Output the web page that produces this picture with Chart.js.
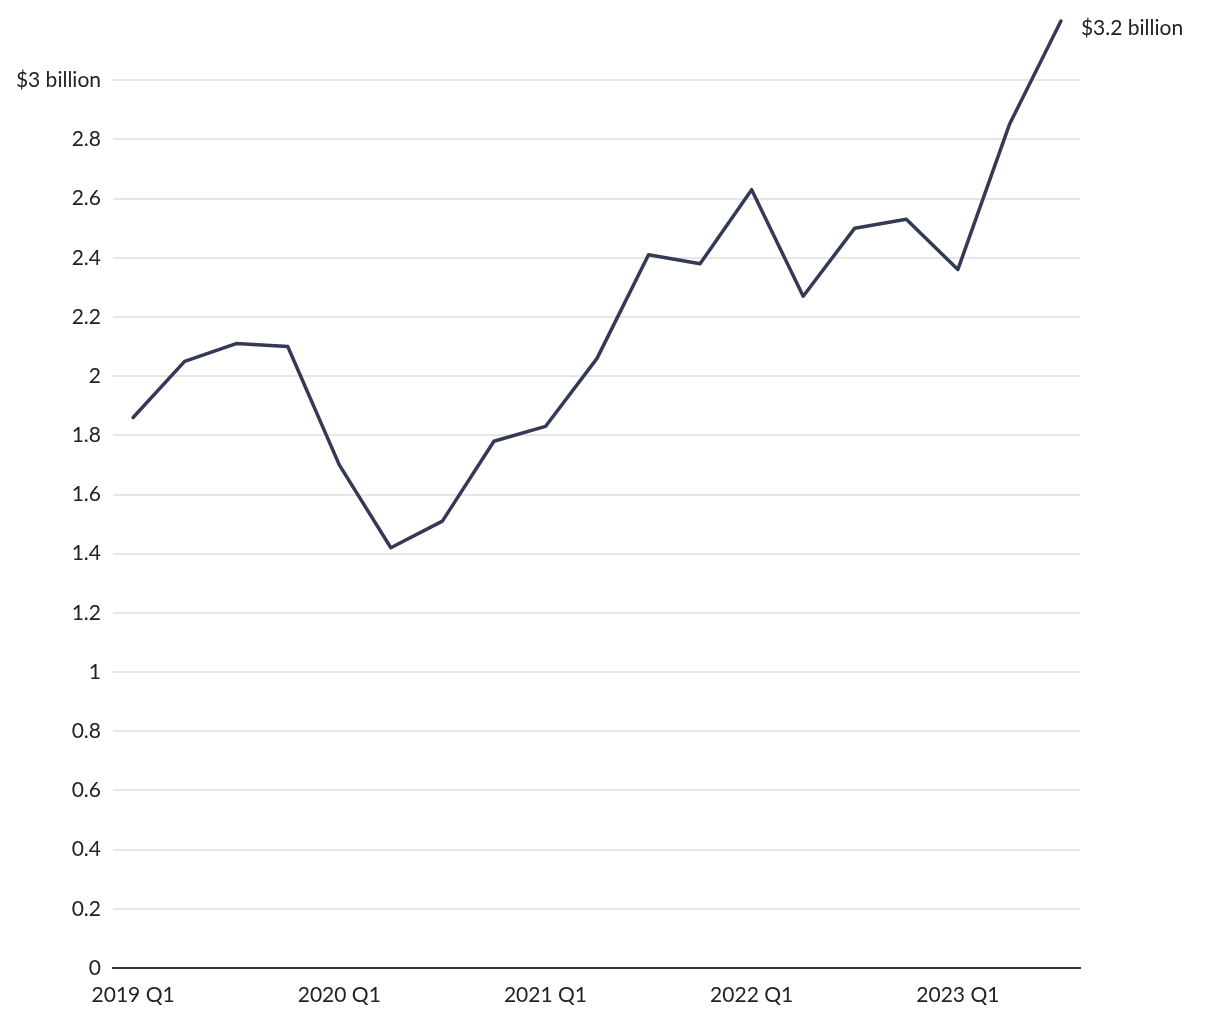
<!DOCTYPE html>
<html>
<head>
<meta charset="utf-8">
<script src="https://cdn.jsdelivr.net/npm/chart.js@4"></script>
<style>
  html, body { margin: 0; padding: 0; background: #fff; }
  #wrap { width: 1220px; height: 1020px; }
</style>
</head>
<body>
<div id="wrap"><canvas id="c" width="1220" height="1020"></canvas></div>
<script>
const quarters = ["2019 Q1","2019 Q2","2019 Q3","2019 Q4","2020 Q1","2020 Q2","2020 Q3","2020 Q4","2021 Q1","2021 Q2","2021 Q3","2021 Q4","2022 Q1","2022 Q2","2022 Q3","2022 Q4","2023 Q1","2023 Q2","2023 Q3"];
const valuesBillion = [1.86, 2.05, 2.11, 2.10, 1.70, 1.42, 1.51, 1.78, 1.83, 2.06, 2.41, 2.38, 2.63, 2.27, 2.50, 2.53, 2.36, 2.85, 3.2];
const xTickIndexes = [0, 4, 8, 12, 16];
const yTicks = [0, 0.2, 0.4, 0.6, 0.8, 1, 1.2, 1.4, 1.6, 1.8, 2, 2.2, 2.4, 2.6, 2.8, 3];
const endLabel = "$3.2 billion";

const FONT = "'Lato', 'Open Sans', sans-serif";
const TEXT = "#222";

const endLabelPlugin = {
  id: 'endLabel',
  afterDatasetsDraw(chart) {
    const meta = chart.getDatasetMeta(0);
    const pt = meta.data[meta.data.length - 1];
    const ctx = chart.ctx;
    ctx.save();
    ctx.font = "21px " + FONT;
    ctx.fillStyle = TEXT;
    ctx.textAlign = 'left';
    ctx.textBaseline = 'middle';
    ctx.fillText(endLabel, pt.x + 20, pt.y + 7);
    ctx.restore();
  }
};

new Chart(document.getElementById('c'), {
  type: 'line',
  data: {
    datasets: [{
      data: valuesBillion.map((v, i) => ({ x: i, y: v })),
      borderColor: '#343a55',
      borderWidth: 3.5,
      pointRadius: 0,
      tension: 0,
      fill: false,
      clip: false,
      borderJoinStyle: 'round',
      borderCapStyle: 'round'
    }]
  },
  options: {
    responsive: false,
    animation: false,
    layout: { padding: { top: 21, right: 140, bottom: 0, left: 0 } },
    plugins: { legend: { display: false }, tooltip: { enabled: false } },
    scales: {
      x: {
        type: 'linear',
        min: -0.39,
        max: 18.37,
        afterBuildTicks(scale) { scale.ticks = xTickIndexes.map(v => ({ value: v })); },
        afterFit(scale) { scale.height = 52; scale.paddingLeft = 0; scale.paddingRight = 0; },
        grid: { display: false, drawTicks: false },
        border: { display: true, color: '#333', width: 2 },
        ticks: {
          padding: 15,
          maxRotation: 0,
          autoSkip: false,
          color: TEXT,
          font: { family: FONT, size: 21 },
          callback: (v) => quarters[v]
        }
      },
      y: {
        min: 0,
        max: 3.2,
        afterBuildTicks(scale) { scale.ticks = yTicks.map(v => ({ value: v })); },
        afterFit(scale) { scale.width = 113; scale.paddingTop = 0; scale.paddingBottom = 0; },
        grid: { color: '#e6e6e6', lineWidth: 2, drawTicks: false },
        border: { display: false },
        ticks: {
          padding: 12,
          color: TEXT,
          font: { family: FONT, size: 21 },
          callback: (v) => v === 3 ? '$3 billion' : String(Number(v.toFixed(1)))
        }
      }
    }
  },
  plugins: [endLabelPlugin]
});
</script>
</body>
</html>
